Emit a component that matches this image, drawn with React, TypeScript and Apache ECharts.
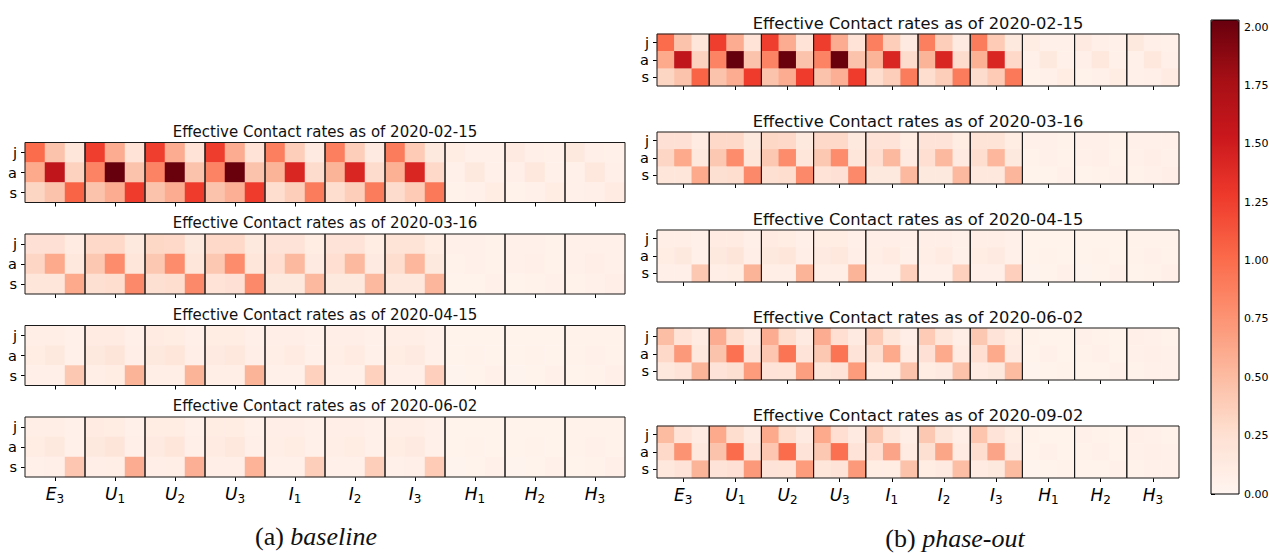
import React, { useEffect, useRef } from "react";
import * as echarts from "echarts";

// Age groups (rows of each block, and columns inside each block)
const ageGroups = ["j", "a", "s"];
// Compartments along the x axis: letter + subscript
const compartmentLetters = ["E", "U", "U", "U", "I", "I", "I", "H", "H", "H"];
const compartmentIndices = ["3", "1", "2", "3", "1", "2", "3", "1", "2", "3"];

// Colour scale (matplotlib "Reds") and colour bar ticks
const redsPalette = ["#fff5f0", "#fee0d2", "#fcbba1", "#fc9272", "#fb6a4a", "#ef3b2c", "#cb181d", "#a50f15", "#67000d"];
const colorMin = 0;
const colorMax = 2.03;
const colorTicks = [0, 0.25, 0.5, 0.75, 1, 1.25, 1.5, 1.75, 2];

// Effective contact rates: rows j, a, s; 30 columns = 10 compartments x (j, a, s)
const rates0215 = [
  [1.0, 0.45, 0.18, 1.25, 0.6, 0.22, 1.25, 0.6, 0.22, 1.26, 0.6, 0.22, 0.88, 0.38, 0.13, 0.88, 0.38, 0.13, 0.9, 0.4, 0.14, 0.11, 0.06, 0.06, 0.13, 0.07, 0.05, 0.14, 0.07, 0.06],
  [0.62, 1.6, 0.35, 0.85, 2.03, 0.45, 0.85, 2.02, 0.45, 0.85, 2.02, 0.45, 0.55, 1.42, 0.28, 0.55, 1.42, 0.28, 0.57, 1.42, 0.3, 0.06, 0.15, 0.05, 0.07, 0.17, 0.05, 0.06, 0.16, 0.07],
  [0.33, 0.45, 1.05, 0.45, 0.6, 1.27, 0.45, 0.6, 1.27, 0.45, 0.58, 1.27, 0.27, 0.38, 0.9, 0.27, 0.38, 0.9, 0.28, 0.4, 0.92, 0.04, 0.05, 0.1, 0.04, 0.05, 0.1, 0.06, 0.07, 0.12],
];
const rates0316 = [
  [0.24, 0.24, 0.12, 0.3, 0.3, 0.14, 0.31, 0.3, 0.14, 0.3, 0.3, 0.14, 0.2, 0.2, 0.1, 0.2, 0.2, 0.1, 0.21, 0.21, 0.1, 0.05, 0.05, 0.04, 0.06, 0.05, 0.04, 0.06, 0.06, 0.05],
  [0.32, 0.62, 0.16, 0.42, 0.8, 0.18, 0.42, 0.8, 0.18, 0.42, 0.8, 0.18, 0.26, 0.52, 0.13, 0.26, 0.52, 0.13, 0.27, 0.53, 0.14, 0.04, 0.06, 0.04, 0.05, 0.07, 0.04, 0.05, 0.08, 0.05],
  [0.18, 0.18, 0.62, 0.25, 0.27, 0.82, 0.25, 0.27, 0.82, 0.22, 0.24, 0.82, 0.15, 0.15, 0.52, 0.15, 0.15, 0.52, 0.16, 0.16, 0.54, 0.03, 0.03, 0.05, 0.03, 0.04, 0.06, 0.04, 0.05, 0.08],
];
const rates0415 = [
  [0.09, 0.09, 0.05, 0.12, 0.12, 0.07, 0.12, 0.11, 0.07, 0.11, 0.11, 0.07, 0.08, 0.08, 0.05, 0.08, 0.08, 0.05, 0.09, 0.09, 0.05, 0.03, 0.03, 0.03, 0.03, 0.03, 0.03, 0.04, 0.04, 0.04],
  [0.1, 0.14, 0.06, 0.14, 0.19, 0.08, 0.14, 0.18, 0.08, 0.13, 0.17, 0.08, 0.09, 0.12, 0.05, 0.09, 0.12, 0.05, 0.1, 0.13, 0.06, 0.03, 0.04, 0.03, 0.03, 0.04, 0.03, 0.04, 0.05, 0.04],
  [0.07, 0.07, 0.42, 0.09, 0.1, 0.55, 0.09, 0.09, 0.55, 0.09, 0.09, 0.55, 0.06, 0.06, 0.36, 0.06, 0.06, 0.36, 0.07, 0.07, 0.37, 0.02, 0.03, 0.05, 0.02, 0.03, 0.05, 0.03, 0.04, 0.07],
];
const baselineRates0602 = [
  [0.09, 0.09, 0.05, 0.12, 0.11, 0.06, 0.11, 0.11, 0.06, 0.11, 0.1, 0.06, 0.08, 0.08, 0.05, 0.08, 0.08, 0.05, 0.09, 0.09, 0.05, 0.03, 0.03, 0.03, 0.03, 0.03, 0.03, 0.04, 0.04, 0.04],
  [0.11, 0.14, 0.06, 0.14, 0.19, 0.07, 0.13, 0.18, 0.07, 0.12, 0.16, 0.07, 0.09, 0.11, 0.05, 0.09, 0.11, 0.05, 0.1, 0.13, 0.06, 0.03, 0.04, 0.03, 0.03, 0.04, 0.03, 0.04, 0.05, 0.04],
  [0.06, 0.07, 0.43, 0.08, 0.09, 0.6, 0.08, 0.09, 0.58, 0.08, 0.08, 0.56, 0.05, 0.06, 0.38, 0.05, 0.06, 0.38, 0.06, 0.07, 0.4, 0.02, 0.03, 0.05, 0.02, 0.03, 0.05, 0.03, 0.04, 0.07],
];
const phaseOutRates0602 = [
  [0.48, 0.22, 0.12, 0.6, 0.27, 0.13, 0.6, 0.27, 0.13, 0.6, 0.26, 0.13, 0.4, 0.18, 0.08, 0.4, 0.18, 0.09, 0.42, 0.2, 0.1, 0.04, 0.03, 0.03, 0.05, 0.04, 0.03, 0.07, 0.05, 0.04],
  [0.3, 0.72, 0.16, 0.45, 0.97, 0.2, 0.43, 0.95, 0.2, 0.42, 0.95, 0.2, 0.25, 0.62, 0.12, 0.24, 0.62, 0.12, 0.26, 0.62, 0.13, 0.03, 0.05, 0.03, 0.04, 0.06, 0.03, 0.05, 0.07, 0.05],
  [0.16, 0.2, 0.55, 0.2, 0.25, 0.7, 0.2, 0.22, 0.68, 0.18, 0.2, 0.7, 0.1, 0.11, 0.45, 0.11, 0.13, 0.46, 0.12, 0.14, 0.5, 0.02, 0.03, 0.04, 0.03, 0.03, 0.05, 0.04, 0.05, 0.06],
];
const phaseOutRates0902 = [
  [0.5, 0.22, 0.12, 0.62, 0.27, 0.13, 0.62, 0.27, 0.13, 0.62, 0.26, 0.13, 0.42, 0.18, 0.09, 0.42, 0.19, 0.09, 0.44, 0.2, 0.1, 0.04, 0.03, 0.03, 0.05, 0.04, 0.03, 0.07, 0.05, 0.04],
  [0.3, 0.75, 0.16, 0.45, 1.0, 0.2, 0.43, 1.0, 0.2, 0.42, 0.98, 0.2, 0.26, 0.65, 0.12, 0.25, 0.64, 0.12, 0.27, 0.65, 0.13, 0.03, 0.05, 0.03, 0.04, 0.06, 0.03, 0.05, 0.07, 0.05],
  [0.16, 0.2, 0.55, 0.2, 0.24, 0.72, 0.2, 0.22, 0.7, 0.18, 0.2, 0.72, 0.1, 0.11, 0.46, 0.11, 0.13, 0.48, 0.12, 0.14, 0.5, 0.02, 0.03, 0.04, 0.03, 0.03, 0.05, 0.04, 0.05, 0.06],
];

const baselineDates = ["2020-02-15", "2020-03-16", "2020-04-15", "2020-06-02"];
const baselineRates = [rates0215, rates0316, rates0415, baselineRates0602];
const phaseOutDates = ["2020-02-15", "2020-03-16", "2020-04-15", "2020-06-02", "2020-09-02"];
const phaseOutRates = [rates0215, rates0316, rates0415, phaseOutRates0602, phaseOutRates0902];

const SANS = "DejaVu Sans";
const SERIF = "Liberation Serif";

type Panel = {
  dates: string[];
  rates: number[][][];
  left: number;
  width: number;
  tops: number[];
  height: number;
  titleSize: number;
  rowLabelSize: number;
  caption: string;
  captionLabel: string;
  captionX: number;
  captionY: number;
};

const panels: Panel[] = [
  {
    dates: baselineDates,
    rates: baselineRates,
    left: 25,
    width: 600,
    tops: [142.5, 234, 325.5, 417],
    height: 60,
    titleSize: 15,
    rowLabelSize: 14.5,
    caption: "(a) ",
    captionLabel: "baseline",
    captionX: 316,
    captionY: 536,
  },
  {
    dates: phaseOutDates,
    rates: phaseOutRates,
    left: 657,
    width: 522,
    tops: [34, 132, 230, 328, 426],
    height: 52,
    titleSize: 16.3,
    rowLabelSize: 14.5,
    caption: "(b) ",
    captionLabel: "phase-out",
    captionX: 955,
    captionY: 538,
  },
];

const columnCategories: string[] = [];
compartmentLetters.forEach((c, b) => {
  ageGroups.forEach((g) => columnCategories.push(`${c}${compartmentIndices[b]}-${g}`));
});

function buildOption() {
  const grid: any[] = [];
  const xAxis: any[] = [];
  const yAxis: any[] = [];
  const series: any[] = [];
  const graphic: any[] = [];
  const heatmapIndices: number[] = [];

  panels.forEach((p) => {
    p.dates.forEach((date, k) => {
      const gi = grid.length;
      const isLast = k === p.dates.length - 1;
      grid.push({ left: p.left, top: p.tops[k], width: p.width, height: p.height, outerBoundsMode: "none" });
      xAxis.push({
        type: "category",
        gridIndex: gi,
        data: columnCategories,
        axisLine: { show: false },
        splitLine: { show: false },
        axisTick: {
          show: true,
          alignWithLabel: true,
          interval: (i: number) => i % 3 === 1,
          length: 4,
          lineStyle: { color: "#000", width: 1 },
        },
        axisLabel: {
          show: isLast,
          interval: (i: number) => i % 3 === 1,
          margin: 6,
          formatter: (_v: string, i: number) => {
            const b = Math.floor(i / 3);
            return `{m|${compartmentLetters[b]}}{s|${compartmentIndices[b]}}`;
          },
          rich: {
            m: { fontFamily: SANS, fontStyle: "italic", fontSize: 17, color: "#000", lineHeight: 22, verticalAlign: "middle" },
            s: { fontFamily: SANS, fontSize: 12, color: "#000", lineHeight: 8, verticalAlign: "bottom" },
          },
        },
      });
      yAxis.push({
        type: "category",
        gridIndex: gi,
        data: ageGroups,
        inverse: true,
        axisLine: { show: false },
        splitLine: { show: false },
        axisTick: { show: true, alignWithLabel: true, interval: 0, length: 4, lineStyle: { color: "#000", width: 1 } },
        axisLabel: {
          interval: 0,
          hideOverlap: false,
          fontFamily: SANS,
          fontSize: p.rowLabelSize,
          lineHeight: 14,
          color: "#000",
          margin: 8,
        },
      });
      const data: number[][] = [];
      p.rates[k].forEach((row, r) => row.forEach((v, c) => data.push([c, r, v])));
      heatmapIndices.push(series.length);
      series.push({
        type: "heatmap",
        xAxisIndex: gi,
        yAxisIndex: gi,
        data,
        silent: true,
        itemStyle: { borderWidth: 0 },
      });
      // one framed box per compartment block
      series.push({
        type: "custom",
        xAxisIndex: gi,
        yAxisIndex: gi,
        silent: true,
        z: 5,
        data: compartmentLetters.map((_c, b) => [b * 3 + 1, 1]),
        renderItem: (params: any, api: any) => {
          const c = api.coord([api.value(0), api.value(1)]);
          const size = api.size([1, 1]);
          const cs = params.coordSys;
          return {
            type: "rect",
            shape: { x: c[0] - size[0] * 1.5, y: cs.y, width: size[0] * 3, height: cs.height },
            style: { fill: "none", stroke: "#1a1a1a", lineWidth: 1 },
          };
        },
      });
      graphic.push({
        type: "text",
        x: p.left + p.width / 2,
        y: p.tops[k] - 11,
        style: {
          text: `Effective Contact rates as of ${date}`,
          fontFamily: SANS,
          fontSize: p.titleSize,
          fill: "#111",
          align: "center",
          verticalAlign: "middle",
        },
      });
    });
    graphic.push({
      type: "text",
      x: p.captionX,
      y: p.captionY,
      style: {
        text: `{r|${p.caption}}{i|${p.captionLabel}}`,
        align: "center",
        verticalAlign: "middle",
        rich: {
          r: { fontFamily: SERIF, fontSize: 26, fill: "#111" },
          i: { fontFamily: SERIF, fontSize: 26, fontStyle: "italic", fill: "#111" },
        },
      },
    });
  });

  // colour bar axis
  const cbIndex = grid.length;
  const cb = { left: 1211, top: 20, width: 28, height: 474 };
  grid.push({
    ...cb,
    show: true,
    z: 10,
    backgroundColor: "transparent",
    borderColor: "#000",
    borderWidth: 1,
    outerBoundsMode: "none",
  });
  xAxis.push({ type: "value", gridIndex: cbIndex, show: false, min: 0, max: 1 });
  yAxis.push({
    type: "value",
    gridIndex: cbIndex,
    position: "right",
    min: colorMin,
    max: colorMax,
    axisLine: { show: false },
    splitLine: { show: false },
    axisTick: { show: true, customValues: colorTicks, length: 4, lineStyle: { color: "#000", width: 1 } },
    axisLabel: {
      customValues: colorTicks,
      formatter: (v: number) => v.toFixed(2),
      fontFamily: SANS,
      fontSize: 11,
      color: "#000",
      margin: 5,
    },
  });

  return {
    animation: false,
    backgroundColor: "#fff",
    grid,
    xAxis,
    yAxis,
    visualMap: {
      type: "continuous",
      min: colorMin,
      max: colorMax,
      seriesIndex: heatmapIndices,
      inRange: { color: redsPalette },
      orient: "vertical",
      left: cb.left,
      top: cb.top,
      itemWidth: cb.width,
      itemHeight: cb.height,
      padding: 0,
      calculable: false,
      hoverLink: false,
      show: true,
    },
    series,
    graphic,
  };
}

export default function App() {
  const ref = useRef<HTMLDivElement>(null);
  useEffect(() => {
    if (!ref.current) return;
    const chart = echarts.init(ref.current, undefined, { renderer: "svg" });
    chart.setOption(buildOption() as any);
    return () => chart.dispose();
  }, []);
  return (
    <div
      ref={ref}
      style={{ position: "fixed", left: 0, top: 0, width: 1269, height: 553, background: "#fff" }}
    />
  );
}
